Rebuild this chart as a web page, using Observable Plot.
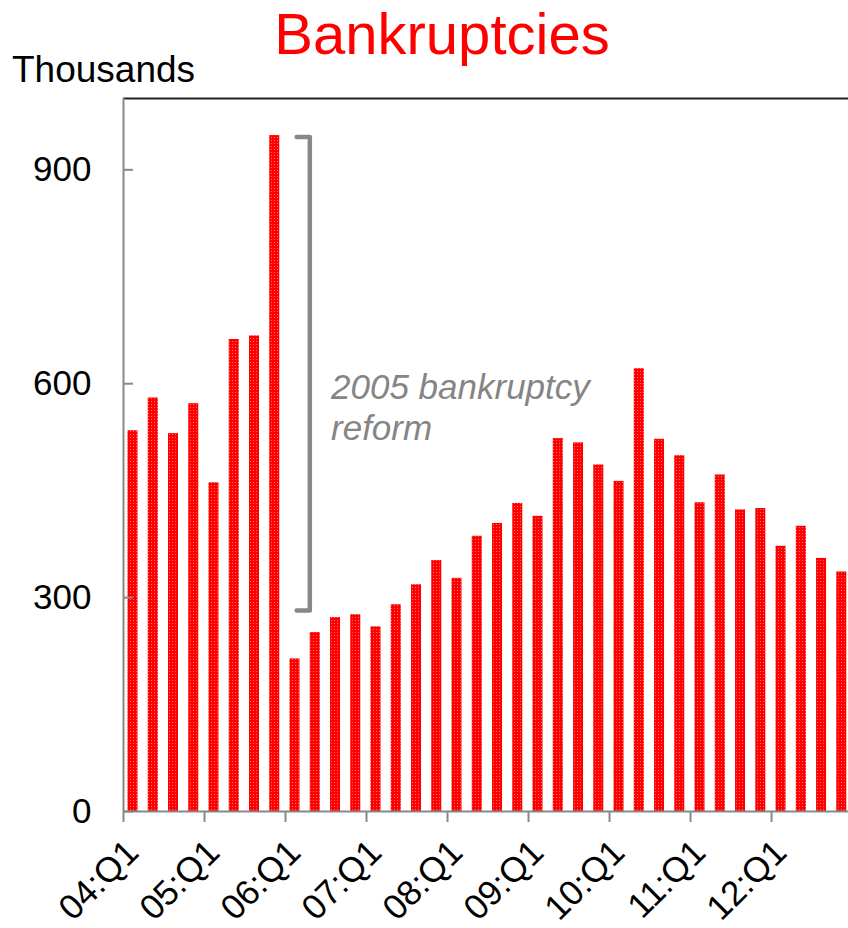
<!DOCTYPE html>
<html>
<head>
<meta charset="utf-8">
<script src="https://cdn.jsdelivr.net/npm/d3@7"></script>
<script src="https://cdn.jsdelivr.net/npm/@observablehq/plot@0.6"></script>
<style>
html, body { margin: 0; padding: 0; background: #fff; overflow: hidden; }
#wrap { position: relative; width: 848px; height: 928px; font-family: "Liberation Sans", Arial, sans-serif; }
#head { position: relative; height: 88px; }
#title { position: absolute; left: 442px; top: 0px; transform: translateX(-50%); font-size: 58px; line-height: normal; color: #ff0000; white-space: nowrap; }
#units { position: absolute; left: 12px; top: 49px; font-size: 37px; line-height: normal; color: #000; white-space: nowrap; }
#chart svg { display: block; }
</style>
</head>
<body>
<div id="wrap">
  <div id="head">
    <div id="title">Bankruptcies</div>
    <div id="units">Thousands</div>
  </div>
  <div id="chart"></div>
</div>
<script>
// Quarters (categories)
const quarters = [
  "04:Q1","04:Q2","04:Q3","04:Q4",
  "05:Q1","05:Q2","05:Q3","05:Q4",
  "06:Q1","06:Q2","06:Q3","06:Q4",
  "07:Q1","07:Q2","07:Q3","07:Q4",
  "08:Q1","08:Q2","08:Q3","08:Q4",
  "09:Q1","09:Q2","09:Q3","09:Q4",
  "10:Q1","10:Q2","10:Q3","10:Q4",
  "11:Q1","11:Q2","11:Q3","11:Q4",
  "12:Q1","12:Q2","12:Q3","12:Q4"
];
// Bankruptcies, thousands
const values = [
  534, 580, 530, 572,
  461, 662, 667, 948,
  214, 251, 272, 276,
  259, 290, 318, 352,
  327, 386, 404, 432,
  414, 523, 517, 486,
  463, 621, 522, 499,
  433, 472, 423, 425,
  372, 400, 355, 336
];
// Tick labels
const xTickLabels = ["04:Q1","05:Q1","06:Q1","07:Q1","08:Q1","09:Q1","10:Q1","11:Q1","12:Q1"];
const yTicks = [0, 300, 600, 900];
// Annotation
const annotationText = "2005 bankruptcy\nreform";
const bracketTop = 946;
const bracketBottom = 282;

const data = quarters.map((q, i) => ({i, q, v: values[i]}));
const xTicks = xTickLabels.map(l => ({i: quarters.indexOf(l), q: l}));
const bracket = [
  {x: 8.55, y: bracketTop},
  {x: 9.2, y: bracketTop},
  {x: 9.2, y: bracketBottom},
  {x: 8.55, y: bracketBottom}
];

const font = "Liberation Sans, Arial, sans-serif";
const chart = Plot.plot({
  width: 848,
  height: 840,
  marginLeft: 123,
  marginRight: 0,
  marginTop: 10,
  marginBottom: 117,
  style: {fontFamily: font, fontSize: "35px", color: "#000", background: "#fff"},
  x: {type: "linear", domain: [0, 35.8], axis: null},
  y: {domain: [0, 1000], axis: null},
  marks: [
    Plot.rectY(data, {x1: d => d.i, x2: d => d.i + 1, y: "v", fill: "url(#redtex)", insetLeft: 4.5, insetRight: 5.75}),
    // frame lines
    Plot.ruleY([1000], {stroke: "#222", strokeWidth: 2}),
    Plot.ruleY([0], {stroke: "#888", strokeWidth: 2}),
    Plot.ruleX([0], {y1: 0, y2: 1000, stroke: "#888", strokeWidth: 2}),
    // y ticks (inside) and labels
    Plot.axisY({ticks: yTicks, tickSize: 10, dx: 10, tickFormat: () => "", stroke: "#888", strokeWidth: 2, label: null}),
    Plot.axisY({ticks: yTicks, tickSize: 0, tickPadding: 32, fontSize: 35, label: null}),
    // x ticks and rotated labels
    Plot.axisX({ticks: xTicks.map(d => d.i), tickSize: 11, tickFormat: () => "", stroke: "#888", strokeWidth: 2, label: null}),
    Plot.text(xTicks, {x: "i", text: "q", frameAnchor: "bottom", rotate: -45, textAnchor: "end", lineAnchor: "bottom", dx: 17, dy: 43, fontSize: 35, fill: "#000"}),
    // annotation bracket and text
    Plot.line(bracket, {x: "x", y: "y", stroke: "#888", strokeWidth: 4.5, strokeLinejoin: "round"}),
    Plot.text([annotationText], {x: 10, y: 620, dx: 5, text: d => d, textAnchor: "start", lineAnchor: "top", lineHeight: 1.186, fontSize: 35, fontStyle: "italic", fill: "#858585"})
  ]
});

chart.insertAdjacentHTML("afterbegin",
  '<defs><pattern id="redtex" width="3" height="3" patternUnits="userSpaceOnUse">' +
  '<rect width="3" height="3" fill="#ff0000"/>' +
  '<rect x="1" y="1" width="1" height="1" fill="#ff6a6a"/>' +
  '</pattern></defs>');

document.getElementById("chart").appendChild(chart);
</script>
</body>
</html>
